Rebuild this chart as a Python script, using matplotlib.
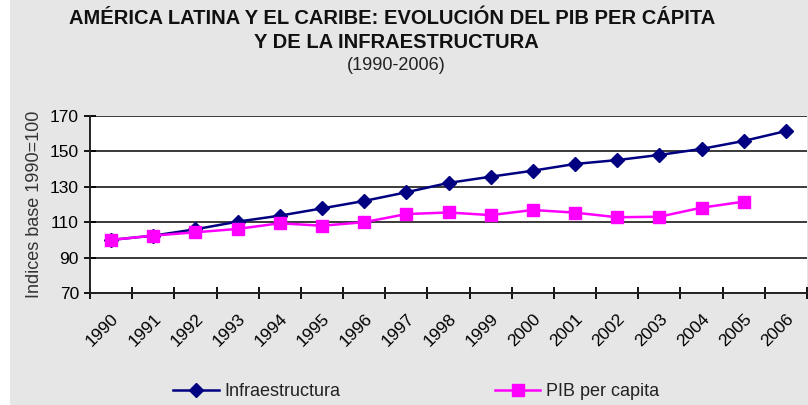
import matplotlib.pyplot as plt
from matplotlib.patches import Rectangle
from matplotlib.transforms import ScaledTranslation

years = [str(y) for y in range(1990, 2007)]
infraestructura = [100, 102.4, 106, 110.3, 113.7, 117.8, 122, 126.9, 132.2,
                   135.7, 139.1, 142.9, 145.1, 148, 151.4, 155.9, 161.5]
pib_per_capita = [100, 102.4, 104.3, 106.2, 109.4, 108, 110, 114.6, 115.5,
                  114, 116.9, 115.4, 112.8, 113.1, 118.2, 121.6]
y_ticks = [70, 90, 110, 130, 150, 170]

plt.rcParams['font.family'] = ['Liberation Sans', 'DejaVu Sans']

fig = plt.figure(figsize=(8.08, 4.05), dpi=100)
fig.patch.set_facecolor('white')
# gray chart background (leaves a thin white margin on the left)
fig.patches.append(Rectangle((10 / 808, 0), 1, 1, transform=fig.transFigure,
                             facecolor='#e6e6e6', edgecolor='none', zorder=-10))

ax = fig.add_axes([90 / 808, 112 / 405, 717 / 808, 177 / 405])
ax.set_facecolor('white')

x = list(range(len(years)))
ax.plot(x, infraestructura, color='#000080', lw=1.8, marker='D', ms=7.5,
        label='Infraestructura', zorder=3)
ax.plot(x[:len(pib_per_capita)], pib_per_capita, color='#ff00ff', lw=1.8,
        marker='s', ms=9, label='PIB per capita', zorder=3)

ax.set_xlim(-0.5, len(years) - 0.5)
ax.set_ylim(70, 170)
ax.set_yticks(y_ticks)
ax.yaxis.grid(True, color='#3a3a3a', lw=1.4)
ax.set_axisbelow(True)

# tick marks between categories, labels at the centres
ax.set_xticks([i - 0.5 for i in range(len(years) + 1)])
ax.set_xticklabels([])
ax.set_xticks(x, minor=True)
ax.set_xticklabels(years, minor=True, rotation=45, ha='right',
                   rotation_mode='anchor', fontsize=12.5)
shift = ScaledTranslation(-10 / 100, 0, fig.dpi_scale_trans)
for lbl in ax.get_xticklabels(minor=True):
    lbl.set_transform(lbl.get_transform() + shift)
ax.tick_params(axis='x', which='minor', length=0, pad=13)
ax.tick_params(axis='x', which='major', direction='inout', length=8, width=1.3)
ax.tick_params(axis='y', direction='inout', length=8, width=1.3, labelsize=12.5, pad=4)

for side in ['left', 'bottom']:
    ax.spines[side].set_color('#222222')
    ax.spines[side].set_linewidth(1.4)
for side in ['top', 'right']:
    ax.spines[side].set_visible(False)

ax.set_ylabel('Indices base 1990=100', fontsize=13, color='#333333', labelpad=5)

fig.text(392 / 808, 1 - 19 / 405, 'AMÉRICA LATINA Y EL CARIBE: EVOLUCIÓN DEL PIB PER CÁPITA',
         ha='center', va='center', fontsize=14.5, fontweight='bold', color='#111111')
fig.text(396 / 808, 1 - 42 / 405, 'Y DE LA INFRAESTRUCTURA',
         ha='center', va='center', fontsize=14.5, fontweight='bold', color='#111111')
fig.text(396 / 808, 1 - 65 / 405, '(1990-2006)', ha='center', va='center',
         fontsize=13, color='#222222')

ax.legend(loc='center', bbox_to_anchor=(0.455, -0.559), ncol=2, frameon=False,
          fontsize=13, columnspacing=8.6, handlelength=2.5, handletextpad=0.3,
          labelcolor='#222222')

fig.savefig('out.png', dpi=100, facecolor=fig.get_facecolor())
